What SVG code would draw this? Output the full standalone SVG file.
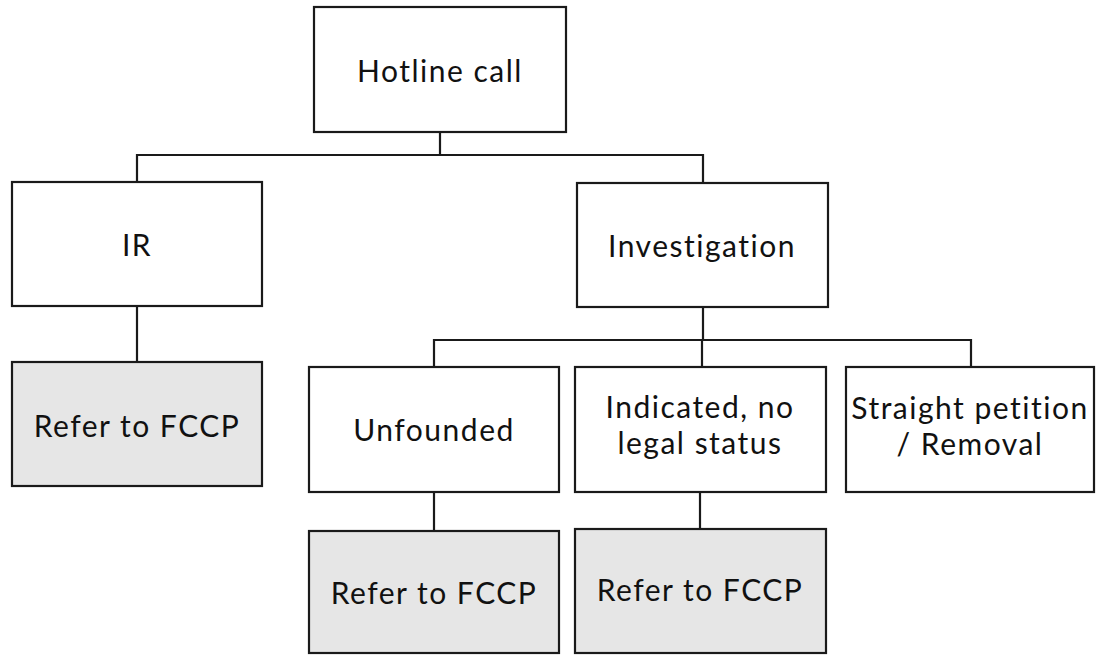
<svg xmlns="http://www.w3.org/2000/svg" width="1097" height="655" viewBox="0 0 1097 655">
<style>
.box{fill:#ffffff;stroke:#1a1a1a;stroke-width:2.2}
.gray{fill:#e6e6e6;stroke:#1a1a1a;stroke-width:2.2}
.t{font-family:Lato,"Open Sans",sans-serif;font-size:30px;letter-spacing:1.5px;fill:#111;text-anchor:middle}
.c{fill:none;stroke:#1a1a1a;stroke-width:2.2}
</style>
<rect width="1097" height="655" fill="#ffffff"/>
<g id="connectors">
<path class="c" d="M440,132 V155 M137,182 V155 H703 V183"/>
<path class="c" d="M137,306 V362"/>
<path class="c" d="M703,307 V340 M434,367 V340 H971 V367 M702,340 V367"/>
<path class="c" d="M434,492 V531"/>
<path class="c" d="M700,492 V529"/>
</g>
<g id="hotline"><rect class="box" x="314" y="7" width="252" height="125"/><text class="t" x="440" y="82">Hotline call</text></g>
<g id="ir"><rect class="box" x="12" y="182" width="250" height="124"/><text class="t" x="137" y="256">IR</text></g>
<g id="investigation"><rect class="box" x="577" y="183" width="251" height="124"/><text class="t" x="702" y="257">Investigation</text></g>
<g id="refer-ir"><rect class="gray" x="12" y="362" width="250" height="124"/><text class="t" x="137" y="437">Refer to FCCP</text></g>
<g id="unfounded"><rect class="box" x="309" y="367" width="250" height="125"/><text class="t" x="434" y="441">Unfounded</text></g>
<g id="indicated"><rect class="box" x="575" y="367" width="251" height="125"/><text class="t" x="700" y="418">Indicated, no</text><text class="t" x="700" y="454">legal status</text></g>
<g id="straight"><rect class="box" x="846" y="367" width="248" height="125"/><text class="t" x="970" y="419">Straight petition</text><text class="t" x="970" y="455">/ Removal</text></g>
<g id="refer-unfounded"><rect class="gray" x="309" y="531" width="250" height="122"/><text class="t" x="434" y="604">Refer to FCCP</text></g>
<g id="refer-indicated"><rect class="gray" x="575" y="529" width="251" height="124"/><text class="t" x="700" y="601">Refer to FCCP</text></g>
</svg>
